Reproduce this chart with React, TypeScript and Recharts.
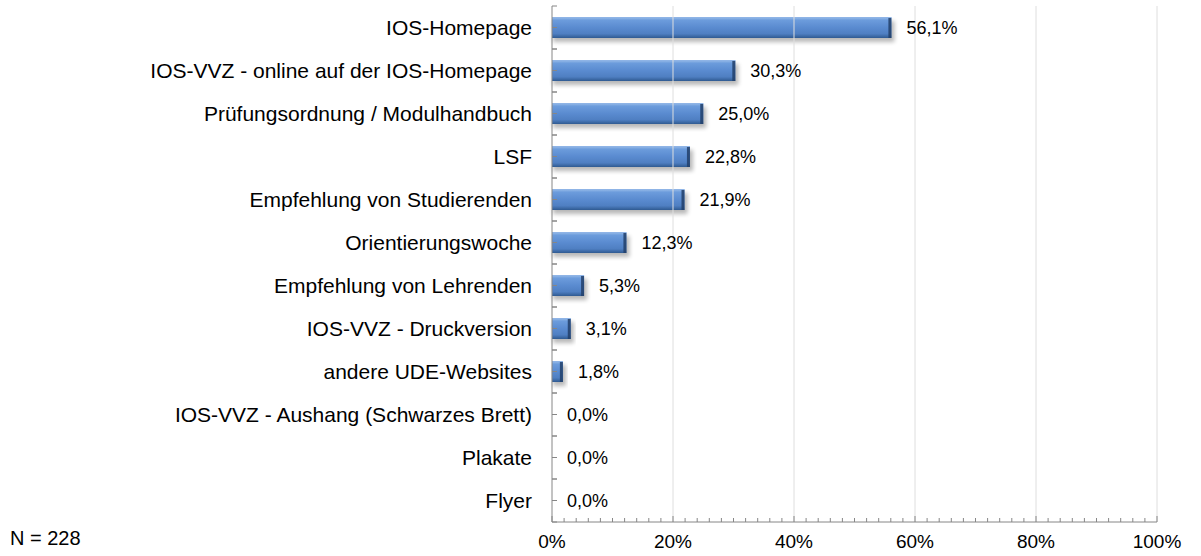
import { BarChart, Bar, XAxis, YAxis, LabelList, ReferenceLine } from "recharts";

const FONT = "'Liberation Sans', Arial, sans-serif";

const CATEGORIES = [
  "IOS-Homepage",
  "IOS-VVZ - online auf der IOS-Homepage",
  "Prüfungsordnung / Modulhandbuch",
  "LSF",
  "Empfehlung von Studierenden",
  "Orientierungswoche",
  "Empfehlung von Lehrenden",
  "IOS-VVZ - Druckversion",
  "andere UDE-Websites",
  "IOS-VVZ - Aushang (Schwarzes Brett)",
  "Plakate",
  "Flyer",
];

const SHARES = [56.1, 30.3, 25.0, 22.8, 21.9, 12.3, 5.3, 3.1, 1.8, 0.0, 0.0, 0.0];

const MAJOR_TICKS = [0, 20, 40, 60, 80, 100];
// minor ticks every 2 %
const MINOR_TICKS = Array.from({ length: 51 }, (_, i) => i * 2);

const data = CATEGORIES.map((name, i) => ({ name, value: SHARES[i] }));

const BAND = 43;

const fmt = (v: number) => v.toFixed(1).replace(".", ",") + "%";

function CategoryTick(props: any) {
  const { x, y, payload } = props;
  const ax = x + 20;
  return (
    <g>
      <text x={x} y={y} dy="0.35em" textAnchor="end" fontSize={21} fontFamily={FONT} fill="#000">
        {payload.value}
      </text>
      <line x1={ax} x2={ax + 5} y1={y} y2={y} stroke="#868686" />
      <line x1={ax} x2={ax + 5} y1={y - BAND / 2} y2={y - BAND / 2} stroke="#868686" />
      <line x1={ax} x2={ax + 5} y1={y + BAND / 2} y2={y + BAND / 2} stroke="#868686" />
    </g>
  );
}

function PercentTick(props: any) {
  const { x, y, payload } = props;
  const major = payload.value % 20 === 0;
  return (
    <g>
      <line x1={x} x2={x} y1={y} y2={y - (major ? 6 : 4)} stroke="#868686" />
      {major && (
        <text x={x} y={y + 26} textAnchor="middle" fontSize={19} fontFamily={FONT} fill="#000">
          {payload.value}%
        </text>
      )}
    </g>
  );
}

function BevelBar(props: any) {
  const { x, y, width, height } = props;
  if (!width || width <= 0) return null;
  return (
    <g>
      <rect x={x + 1} y={y + 4} width={width + 2} height={height} fill="#000" opacity={0.28} filter="url(#barShadow)" />
      <rect x={x} y={y} width={width} height={height} fill="url(#barFill)" />
      <rect x={x + width - 3} y={y + 1} width={3} height={height - 1} fill="#22406a" opacity={0.85} />
      <line x1={x} x2={x + width} y1={y + 0.5} y2={y + 0.5} stroke="#8fb4e6" />
    </g>
  );
}

export default function App() {
  return (
    <div style={{ position: "absolute", left: 0, top: 0, width: 1201, height: 556, background: "#fff" }}>
      <BarChart
        width={1201}
        height={556}
        layout="vertical"
        data={data}
        margin={{ top: 6, right: 44, bottom: 0, left: 0 }}
        barCategoryGap={0}
      >
        <defs>
          <linearGradient id="barFill" x1="0" y1="0" x2="0" y2="1">
            <stop offset="0%" stopColor="#9dbfea" />
            <stop offset="15%" stopColor="#6c9cdc" />
            <stop offset="50%" stopColor="#5a8bd0" />
            <stop offset="80%" stopColor="#4f7fc2" />
            <stop offset="100%" stopColor="#2f5a91" />
          </linearGradient>
          <filter id="barShadow" x="-10%" y="-50%" width="120%" height="200%">
            <feGaussianBlur stdDeviation="2" />
          </filter>
        </defs>
        {MAJOR_TICKS.slice(1).map((t) => (
          <ReferenceLine key={t} x={t} stroke="#dedede" strokeWidth={1} />
        ))}
        <XAxis
          type="number"
          domain={[0, 100]}
          ticks={MINOR_TICKS}
          interval={0}
          height={34}
          tickSize={0}
          tickMargin={0}
          tickLine={false}
          axisLine={{ stroke: "#868686" }}
          tick={<PercentTick />}
        />
        <YAxis
          type="category"
          dataKey="name"
          width={552}
          tickSize={0}
          tickMargin={20}
          tickLine={false}
          axisLine={{ stroke: "#868686" }}
          interval={0}
          tick={<CategoryTick />}
        />
        <Bar dataKey="value" barSize={21} isAnimationActive={false} shape={<BevelBar />}>
          <LabelList
            dataKey="value"
            position="right"
            offset={15}
            formatter={(v: any) => fmt(Number(v))}
            style={{ fontSize: 18, fontFamily: FONT, fill: "#000" }}
          />
        </Bar>
      </BarChart>
      <div
        style={{
          position: "absolute",
          left: 10,
          top: 526,
          fontSize: 20,
          fontFamily: FONT,
          color: "#000",
          lineHeight: "24px",
        }}
      >
        N = 228
      </div>
    </div>
  );
}
